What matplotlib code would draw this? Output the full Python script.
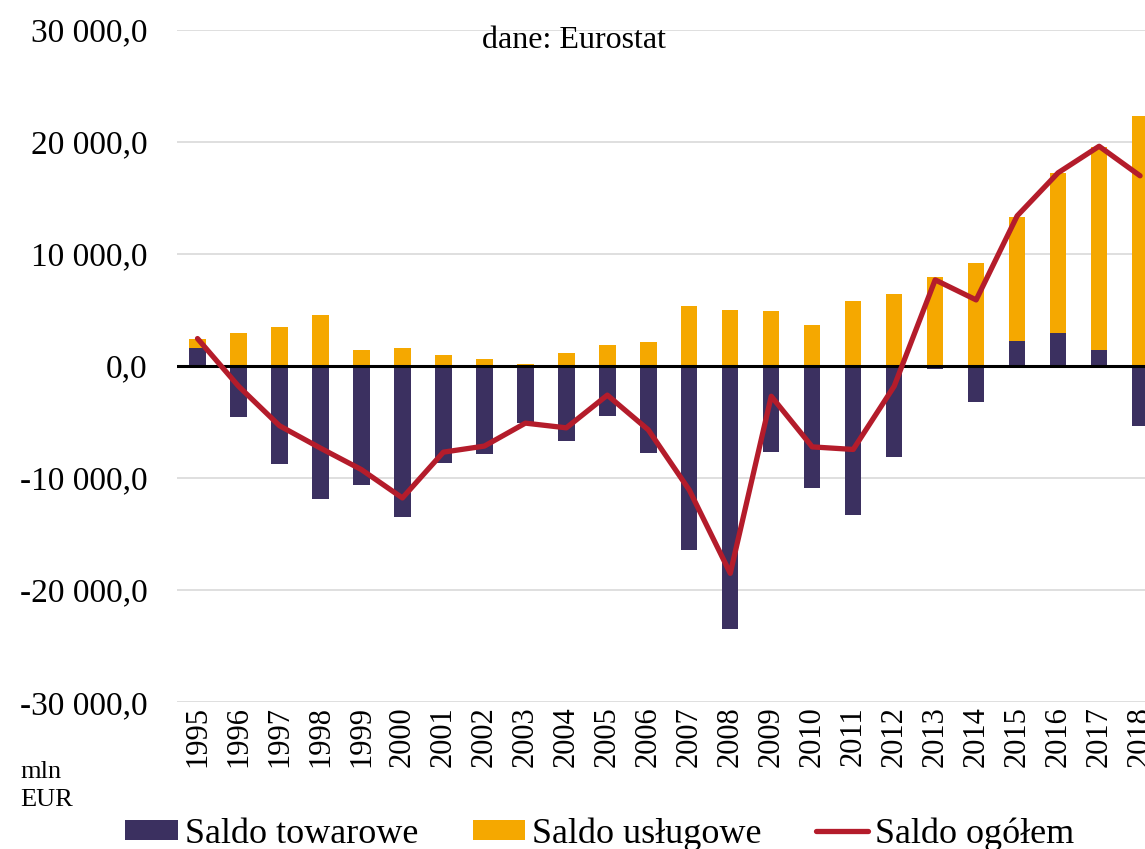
import matplotlib
matplotlib.use('Agg')
import matplotlib.pyplot as plt
from matplotlib.ticker import FuncFormatter
import numpy as np

plt.rcParams['font.family'] = ['Liberation Serif', 'DejaVu Serif']

years = [str(y) for y in range(1995, 2019)]

# saldo towarowe (goods), mln EUR
goods = [1600, -4520, -8750, -11880, -10630, -13450, -8690, -7860, -5120, -6700,
         -4460, -7800, -16430, -23510, -7710, -10920, -13300, -8150, -300, -3240,
         2200, 2920, 1430, -5360]
# saldo uslugowe (services), mln EUR
services = [800, 2920, 3480, 4580, 1430, 1610, 980, 625, 180, 1130,
            1845, 2140, 5360, 5000, 4910, 3660, 5830, 6430, 7980, 9170,
            11100, 14310, 18120, 22350]
# saldo ogolem (total), mln EUR
total = [2450, -1800, -5330, -7330, -9250, -11780, -7690, -7150, -5100, -5520,
         -2600, -5700, -11070, -18510, -2700, -7220, -7450, -1800, 7690, 5900,
         13400, 17250, 19620, 16980]

c_goods = '#3b3060'
c_serv = '#f5a800'
c_total = '#b41c2b'

fig = plt.figure(figsize=(11.45, 8.49), dpi=100)
ax = fig.add_axes([0.1546, 0.1731, 0.8454, 0.7916])

x = np.arange(len(years))
goods = np.array(goods)
services = np.array(services)
serv_bottom = np.where(goods > 0, goods, 0)

b1 = ax.bar(x, goods, width=0.4, color=c_goods, zorder=2, label='Saldo towarowe')
b2 = ax.bar(x, services, width=0.4, bottom=serv_bottom, color=c_serv, zorder=2, label='Saldo usługowe')
ax.axhline(0, color='black', lw=2.2, zorder=3)
l1, = ax.plot(x, total, color=c_total, lw=3.8, zorder=4, solid_capstyle='round',
              solid_joinstyle='round', label='Saldo ogółem')

ax.set_ylim(-30000, 30000)
ax.set_xlim(-0.5, 23.12)
ax.set_yticks(range(-30000, 30001, 10000))
ax.yaxis.set_major_formatter(FuncFormatter(
    lambda v, p: f'{v:,.1f}'.replace(',', ' ').replace('.', ',')))
ax.grid(axis='y', color='#d9d9d9', lw=1.2, zorder=0)
ax.set_axisbelow(True)
for s in ax.spines.values():
    s.set_visible(False)

ax.set_xticks(x)
ax.set_xticklabels(years, rotation=90, va='top', ha='center')
ax.tick_params(axis='x', length=0, pad=3, labelsize=22)
ax.tick_params(axis='y', length=0, pad=21, labelsize=24)

fig.text(482 / 1145, 1 - 48 / 849, 'dane: Eurostat', fontsize=23, va='baseline', ha='left')
fig.text(20 / 1145, 1 - 806 / 849, 'mln\nEUR', fontsize=19, va='baseline', ha='left',
         linespacing=1.35)

fig.legend([b1, b2, l1], ['Saldo towarowe', 'Saldo usługowe', 'Saldo ogółem'],
           loc='center', bbox_to_anchor=(0.524, 1 - 834 / 849), ncol=3, frameon=False,
           fontsize=26, handlelength=1.45, handleheight=0.5, handletextpad=0.2,
           columnspacing=1.5, borderpad=0, borderaxespad=0)

fig.savefig('out.png', dpi=100)
